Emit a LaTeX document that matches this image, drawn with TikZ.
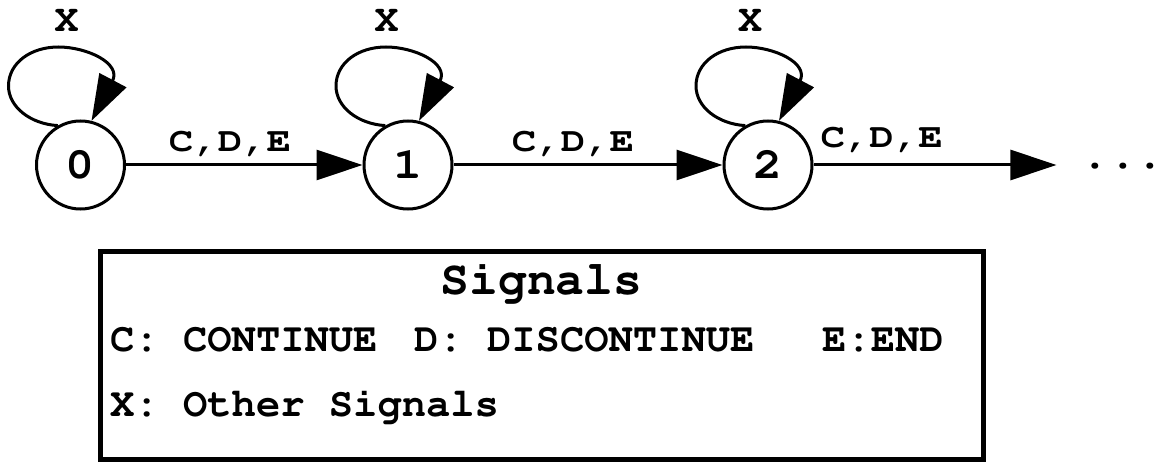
\documentclass[tikz,border=0pt]{standalone}
\usepackage[T1]{fontenc}
\usepackage{courier}
\usepackage{graphicx}
\usetikzlibrary{arrows.meta,calc}

% Courier bold in a few sizes
\newcommand\gvedge{\fontsize{34}{36}\selectfont\ttfamily\bfseries}
\newcommand\gvloop{\fontsize{38}{40}\selectfont\ttfamily\bfseries}
\newcommand\gvbody{\fontsize{40.5}{42}\selectfont\ttfamily\bfseries}
\newcommand\gvtitle{\fontsize{48}{50}\selectfont\ttfamily\bfseries}
\newcommand\gvdots{\fontsize{46}{48}\selectfont\ttfamily\bfseries}
\newcommand\gvdigit{\fontsize{44}{46}\selectfont\ttfamily\bfseries}
\newcommand\widen[2]{\scalebox{#1}[1]{#2}}

\begin{document}
\begin{tikzpicture}[x=1pt,y=-1pt,
  state/.style={circle,draw,line width=3pt,minimum size=88pt,inner sep=0pt,font=\gvdigit},
  tag/.style={inner sep=0pt,anchor=base},
  legendline/.style={inner sep=0pt,anchor=base west,font=\gvbody},
  flow/.style={draw,line width=3pt,-{Triangle[length=46pt,width=30pt]}},
  legendbox/.style={draw,line width=5pt,inner sep=0pt,minimum width=883pt,minimum height=207.5pt},
]
\useasboundingbox (0,0) rectangle (1166,462);

% states
\node[state] (q0) at (80.5,165) {\widen{1.1}{0}};
\node[state] (q1) at (408,165) {\widen{1.1}{1}};
\node[state] (q2) at (768,165) {\widen{1.1}{2}};
\node[inner xsep=25pt,inner ysep=0pt,font=\gvdots] (more) at (1123,165) {...};

% transitions between states
\draw[flow] (q0) -- (q1);
\draw[flow] (q1) -- (q2);
\draw[flow] (q2) -- (more);

% self-loops
\foreach \q in {q0,q1,q2}
  \draw[flow] (\q.120)
    .. controls ($(\q)+(-50,-41)$) and ($(\q)+(-72,-58)$) .. ($(\q)+(-72,-79)$)
    .. controls ($(\q)+(-72,-102)$) and ($(\q)+(-50,-118)$) .. ($(\q)+(-22,-118)$)
    .. controls ($(\q)+(6,-118)$) and ($(\q)+(41,-102)$) .. ($(\q)+(32,-84)$)
    -- (\q.76);

% transition labels
\node[tag,font=\gvloop] (x0) at (66.5,31.7) {\widen{1.05}{X}};
\node[tag,font=\gvloop] (x1) at (386.5,31.7) {\widen{1.05}{X}};
\node[tag,font=\gvloop] (x2) at (750,31.7) {\widen{1.05}{X}};
\node[tag,font=\gvedge] (l01) at (230,152) {\widen{1.2}{C,D,E}};
\node[tag,font=\gvedge] (l12) at (573,152) {\widen{1.2}{C,D,E}};
\node[tag,font=\gvedge] (l2) at (881.7,148) {\widen{1.2}{C,D,E}};

% legend
\node[legendbox] (legend) at (541.5,355.25) {};
\node[tag,font=\gvtitle] (sigtitle) at (541.5,294) {Signals};
\node[legendline] (sigc) at (110,351.7) {C: CONTINUE};
\node[legendline] (sigd) at (414,351.7) {D: DISCONTINUE};
\node[legendline] (sige) at (822,351.7) {E:END};
\node[legendline] (sigx) at (110,416.7) {X: Other Signals};
\end{tikzpicture}
\end{document}
